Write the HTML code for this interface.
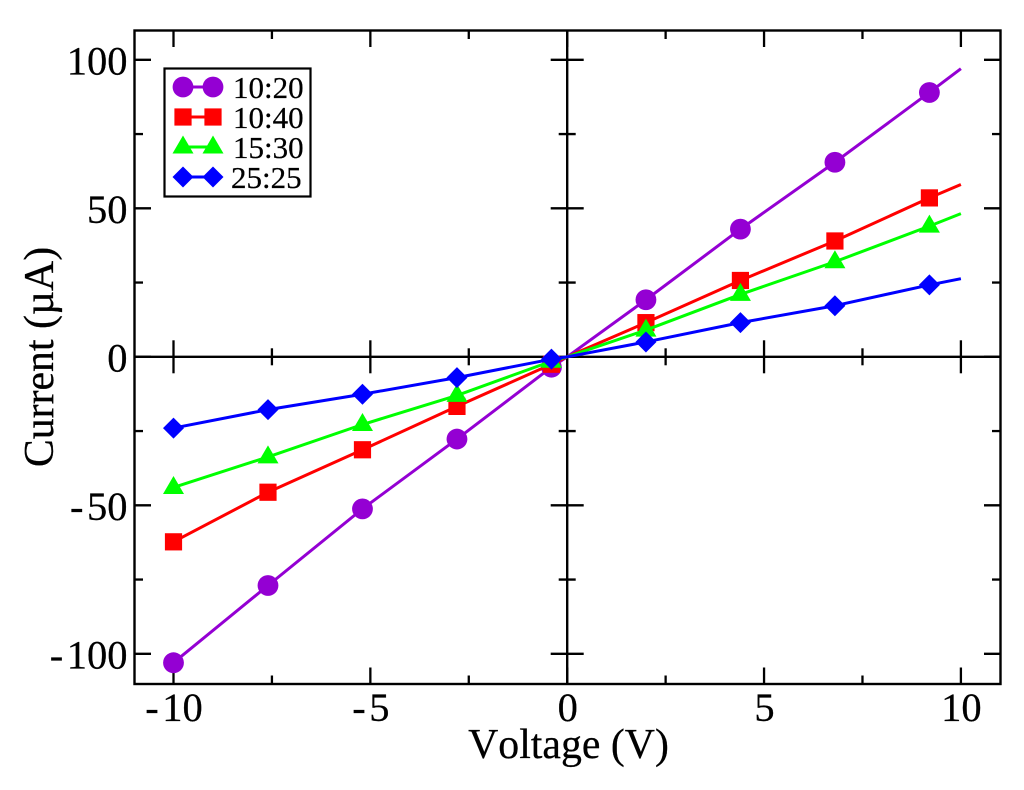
<!DOCTYPE html>
<html lang="en">
<head>
<meta charset="utf-8">
<title>Current vs Voltage</title>
<style>
html,body{margin:0;padding:0;background:#fff;width:1024px;height:790px;overflow:hidden}
svg{display:block}
text{font-family:"Liberation Serif",serif;fill:#000;font-kerning:none;stroke:#000;stroke-width:0.25px}
</style>
</head>
<body>
<svg id="chart" xmlns="http://www.w3.org/2000/svg" width="1024" height="790" viewBox="0 0 1024 790">
  <rect x="0" y="0" width="1024" height="790" fill="#fff"/>
  <g id="ticks"></g>
  <g id="series"></g>
  <g id="frame"></g>
  <g id="tick-labels"></g>
  <text x="568.5" y="758" font-size="41.8" text-anchor="middle">Voltage (V)</text>
  <text transform="translate(53,357) rotate(-90)" font-size="41.8" text-anchor="middle">Current (µA)</text>
  <g id="legend">
    <rect x="164.5" y="68.5" width="146" height="128" fill="#fff" stroke="#000" stroke-width="2.2"/>
    <g id="legend-marks"></g>
    <text x="233" y="98" font-size="31">10:20</text>
    <text x="233" y="128" font-size="31">10:40</text>
    <text x="233" y="158" font-size="31">15:30</text>
    <text x="231" y="188" font-size="31">25:25</text>
  </g>
</svg>
<script>
// Chart data
const lineVoltages = [-10, -7.6, -5.2, -2.8, -0.4, 0, 2, 4.4, 6.8, 9.2, 10];
const markerVoltages = [-10, -7.6, -5.2, -2.8, -0.4, 2, 4.4, 6.8, 9.2];
const current1020 = [-103, -77, -51.2, -27.7, -3.5, 0, 19.2, 43, 65.5, 89, 97];
const current1040 = [-62.3, -45.6, -31.3, -16.7, -2.5, 0, 11.5, 25.7, 39, 53.5, 58];
const current1530 = [-44, -33.7, -22.8, -13, -1.5, 0, 9, 21, 32, 44, 48.2];
const current2525 = [-24, -17.8, -12.6, -7, -0.8, 0, 5, 11.5, 17.2, 24.2, 26.3];
const xMajorTicks = [-10, -5, 0, 5, 10];
const xMinorTicks = [-7.5, -2.5, 2.5, 7.5];
const yMajorTicks = [-100, -50, 0, 50, 100];
const yMinorTicks = [-75, -25, 25, 75];
const xTickLabels = ["-10", "-5", "0", "5", "10"];
const yTickLabels = ["-100", "-50", "0", "50", "100"];

// Layout
const PL = 134.5, PR = 1000.5, PT = 30.5, PB = 684;
const X0 = 567.2, XS = 39.37, Y0 = 356.8, YS = 2.97;
const MAJOR = 16.5, MINOR = 8.5;
const NS = "http://www.w3.org/2000/svg";
const xPos = v => X0 + v * XS;
const yPos = v => Y0 - v * YS;

function make(tag, attrs, parent) {
  const el = document.createElementNS(NS, tag);
  for (const k in attrs) el.setAttribute(k, attrs[k]);
  parent.appendChild(el);
  return el;
}

function drawMarker(kind, x, y, color, parent) {
  let m;
  if (kind === "circle") {
    m = make("circle", {cx: x, cy: y, r: 10.4, fill: color}, parent);
  } else if (kind === "square") {
    m = make("rect", {x: x - 8.6, y: y - 8.6, width: 17.2, height: 17.2, fill: color}, parent);
  } else if (kind === "triangle") {
    m = make("polygon", {points: (x - 10.5) + "," + (y + 6.5) + " " + (x + 10.5) + "," + (y + 6.5) + " " + x + "," + (y - 11.5), fill: color}, parent);
  } else {
    m = make("polygon", {points: (x - 10.5) + "," + y + " " + x + "," + (y - 10.5) + " " + (x + 10.5) + "," + y + " " + x + "," + (y + 10.5), fill: color}, parent);
  }
  
  
  return m;
}

// Ticks
const tickGroup = document.getElementById("ticks");
function tick(x1, y1, x2, y2, name) {
  const t = make("line", {x1: x1, y1: y1, x2: x2, y2: y2, stroke: "#000", "stroke-width": 2.3}, tickGroup);
  
  
}
function xTicks(vals, len, name) {
  vals.forEach(v => {
    const x = xPos(v);
    tick(x, PT, x, PT + len, name + "-top");
    tick(x, PB, x, PB - len, name + "-bottom");
    if (v !== 0) tick(x, Y0 - len, x, Y0 + len, name + "-center");
  });
}
function yTicks(vals, len, name) {
  vals.forEach(v => {
    const y = yPos(v);
    tick(PL, y, PL + len, y, name + "-left");
    tick(PR, y, PR - len, y, name + "-right");
    if (v !== 0) tick(X0 - len, y, X0 + len, y, name + "-center");
  });
}
xTicks(xMajorTicks, MAJOR, "x-major-tick");
xTicks(xMinorTicks, MINOR, "x-minor-tick");
yTicks(yMajorTicks, MAJOR, "y-major-tick");
yTicks(yMinorTicks, MINOR, "y-minor-tick");

// Frame and zero axes
const frameGroup = document.getElementById("frame");
const frameRect = make("rect", {x: PL, y: PT, width: PR - PL, height: PB - PT, fill: "none", stroke: "#000", "stroke-width": 2.4}, frameGroup);


const zeroX = make("line", {x1: PL, y1: Y0, x2: PR, y2: Y0, stroke: "#000", "stroke-width": 2.4}, tickGroup);


const zeroY = make("line", {x1: X0, y1: PT, x2: X0, y2: PB, stroke: "#000", "stroke-width": 2.4}, tickGroup);



// Series
const seriesGroup = document.getElementById("series");
function drawSeries(values, color, kind, name) {
  const g = make("g", {}, seriesGroup);
  
  
  const pts = lineVoltages.map((v, i) => xPos(v) + "," + yPos(values[i])).join(" ");
  const line = make("polyline", {points: pts, fill: "none", stroke: color, "stroke-width": 3, "stroke-linejoin": "round"}, g);
  
  
  markerVoltages.forEach(v => {
    const i = lineVoltages.indexOf(v);
    drawMarker(kind, xPos(v), yPos(values[i]), color, g);
  });
}
drawSeries(current1020, "#9400d3", "circle", "series-10-20");
drawSeries(current1040, "#ff0000", "square", "series-10-40");
drawSeries(current1530, "#00ff00", "triangle", "series-15-30");
drawSeries(current2525, "#0000ff", "diamond", "series-25-25");

// Tick labels
const labelGroup = document.getElementById("tick-labels");
function fillLabel(t, label) {
  if (label.charAt(0) === "-") {
    const h = make("tspan", {"letter-spacing": "3.5px"}, t);
    h.textContent = "-";
    const rest = make("tspan", {}, t);
    rest.textContent = label.slice(1);
  } else {
    t.textContent = label;
  }
}
xMajorTicks.forEach((v, i) => {
  const t = make("text", {x: xPos(v) + 0.5, y: 721, "font-size": 40.5, "text-anchor": "middle"}, labelGroup);
  fillLabel(t, xTickLabels[i]);
  
  
});
yMajorTicks.forEach((v, i) => {
  const t = make("text", {x: 127.5, y: yPos(v) + 14.5, "font-size": 40.5, "text-anchor": "end"}, labelGroup);
  fillLabel(t, yTickLabels[i]);
  
  
});

// Legend markers
const legendMarks = document.getElementById("legend-marks");
const legendKinds = ["circle", "square", "triangle", "diamond"];
const legendColors = ["#9400d3", "#ff0000", "#00ff00", "#0000ff"];
const legendRows = [87, 117, 147, 177];
legendKinds.forEach((kind, i) => {
  const y = legendRows[i];
  const l = make("line", {x1: 183, y1: y, x2: 213, y2: y, stroke: legendColors[i], "stroke-width": 3}, legendMarks);
  
  
  drawMarker(kind, 183, y, legendColors[i], legendMarks);
  drawMarker(kind, 213, y, legendColors[i], legendMarks);
});
</script>
</body>
</html>
